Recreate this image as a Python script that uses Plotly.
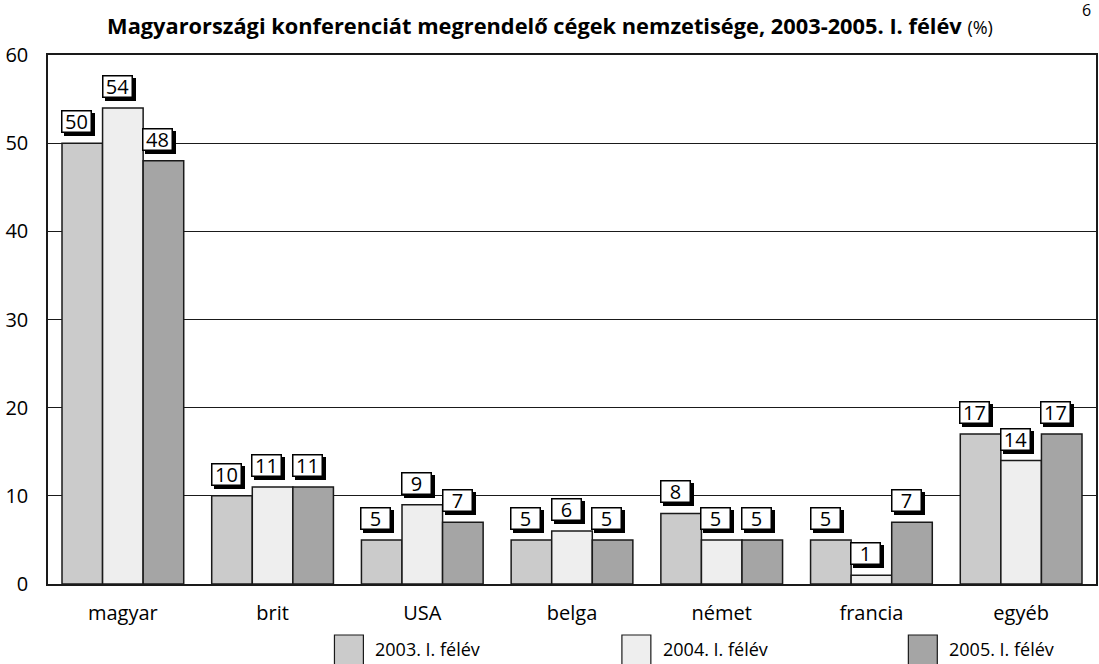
import plotly.graph_objects as go

categories = ["magyar", "brit", "USA", "belga", "német", "francia", "egyéb"]
series_names = ["2003. I. félév", "2004. I. félév", "2005. I. félév"]
values_2003 = [50, 10, 5, 5, 8, 5, 17]
values_2004 = [54, 11, 9, 6, 5, 1, 14]
values_2005 = [48, 11, 7, 5, 5, 7, 17]
series_values = [values_2003, values_2004, values_2005]
colors = ["#cbcbcb", "#eeeeee", "#a5a5a5"]
y_ticks = [0, 10, 20, 30, 40, 50, 60]

FONT = "Open Sans"
BARGAP = 0.187
bar_w = (1 - BARGAP) / 3

W, H = 1099, 664
ML, MR, MT, MB = 48, 1, 55, 80
PW, PH = W - ML - MR, H - MT - MB

fig = go.Figure()
for name, vals, col in zip(series_names, series_values, colors):
    fig.add_trace(go.Bar(
        x=categories, y=vals, name=name,
        marker=dict(color=col, line=dict(color="#1a1a1a", width=1.5)),
        showlegend=False, hoverinfo="skip",
    ))

annotations = []
# value label boxes with drop shadow
for j, vals in enumerate(series_values):
    for i, v in enumerate(vals):
        xpos = i + (j - 1) * bar_w - bar_w / 2
        common = dict(x=xpos, y=v, xref="x", yref="y", xanchor="left", yanchor="bottom",
                      showarrow=False, width=28, height=20, borderpad=0, borderwidth=1.5,
                      font=dict(family=FONT, size=20, color="black"))
        annotations.append(dict(common, text="&nbsp;", bgcolor="black", bordercolor="black",
                                xshift=2, yshift=7))
        annotations.append(dict(common, text=str(v), bgcolor="white", bordercolor="black",
                                xshift=-1, yshift=10))

# legend (squares + labels)
shapes = []
leg_px = [335, 623, 910]
for k, (name, col) in enumerate(zip(series_names, colors)):
    x0 = (leg_px[k] - ML) / PW
    x1 = (leg_px[k] + 29 - ML) / PW
    shapes.append(dict(type="rect", xref="paper", yref="paper",
                       x0=x0, x1=x1, y0=-(H + 4 - MT - PH) / PH, y1=-(635 - MT - PH) / PH,
                       fillcolor=col, line=dict(color="#1a1a1a", width=1.2), layer="above"))
    annotations.append(dict(x=(leg_px[k] + 39 - ML) / PW, y=-(649 - MT - PH) / PH,
                            xref="paper", yref="paper",
                            xanchor="left", yanchor="middle", showarrow=False,
                            text=name, font=dict(family=FONT, size=18, color="black")))

# page number
annotations.append(dict(x=(1095 - ML) / PW, y=1 + (MT - 10) / PH, xref="paper", yref="paper",
                        text="6", showarrow=False, xanchor="right", yanchor="middle",
                        font=dict(family=FONT, size=16, color="black")))

fig.update_layout(
    width=W, height=H,
    margin=dict(l=ML, r=MR, t=MT, b=MB),
    paper_bgcolor="white", plot_bgcolor="white",
    barmode="group", bargap=BARGAP, bargroupgap=0,
    font=dict(family=FONT, size=20, color="black"),
    title=dict(
        text="<b>Magyarországi konferenciát megrendelő cégek nemzetisége, 2003-2005. I. félév</b> "
             "<span style='font-size:18px'>(%)</span>",
        x=550 / W, xref="container", xanchor="center",
        y=1 - 26 / H, yref="container", yanchor="middle",
        font=dict(family=FONT, size=21.8, color="black"),
    ),
    xaxis=dict(type="category", range=[-0.5, 6.5], showline=True, mirror=True,
               linecolor="#1a1a1a", linewidth=1.5, showgrid=False,
               ticks="outside", ticklen=10, tickcolor="rgba(0,0,0,0)",
               tickfont=dict(family=FONT, size=20)),
    yaxis=dict(range=[0, 60], tickvals=y_ticks, showline=True, mirror=True,
               linecolor="#1a1a1a", linewidth=1.5, showgrid=True, gridcolor="#1a1a1a",
               gridwidth=1.2, zeroline=False,
               ticks="outside", ticklen=14, tickcolor="rgba(0,0,0,0)",
               tickfont=dict(family=FONT, size=20)),
    annotations=annotations,
    shapes=shapes,
)

fig.write_html("out.html", config={"displayModeBar": False},
               post_script="document.body.style.margin='0px';document.body.style.overflow='hidden';")
